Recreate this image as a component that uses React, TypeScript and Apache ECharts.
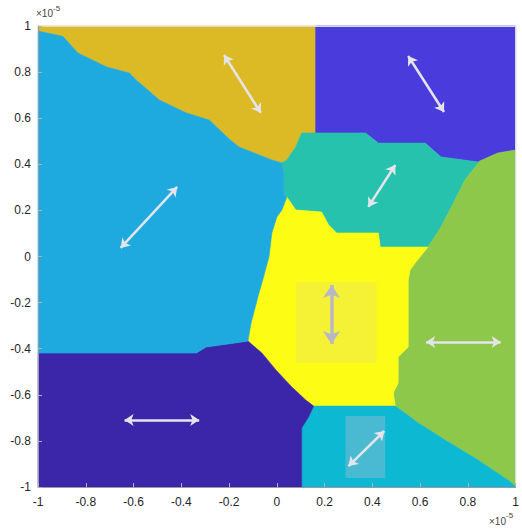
import React, { useEffect, useRef } from "react";
import * as echarts from "echarts";

// Axis ticks (units of 1e-5)
const xTickValues = [-1, -0.8, -0.6, -0.4, -0.2, 0, 0.2, 0.4, 0.6, 0.8, 1];
const yTickValues = [-1, -0.8, -0.6, -0.4, -0.2, 0, 0.2, 0.4, 0.6, 0.8, 1];

// Domain regions (polygon vertices in axis units, x1e-5)
const goldRegion = [
  [-1, 1], [0.1625, 1], [0.1625, 0.536], [0.104, 0.536], [0.079, 0.475], [0.042, 0.419],
  [0.021, 0.406], [-0.021, 0.419], [-0.158, 0.475], [-0.2, 0.51], [-0.283, 0.592], [-0.379, 0.623],
  [-0.492, 0.679], [-0.588, 0.765], [-0.617, 0.796], [-0.7125, 0.822], [-0.833, 0.883],
  [-0.896, 0.955], [-1, 0.978],
];
const darkBlueRegion = [
  [0.1625, 1], [1, 1], [1, 0.462], [0.925, 0.449], [0.85, 0.414], [0.842, 0.41],
  [0.6875, 0.432], [0.621, 0.492], [0.425, 0.492], [0.371, 0.536], [0.1625, 0.536],
];
const tealRegion = [
  [0.1625, 0.536], [0.371, 0.536], [0.425, 0.492], [0.621, 0.492], [0.6875, 0.432], [0.842, 0.41],
  [0.85, 0.414], [0.7875, 0.332], [0.746, 0.245], [0.6875, 0.128], [0.633, 0.041],
  [0.433, 0.041], [0.425, 0.102], [0.25, 0.102], [0.217, 0.137], [0.1875, 0.193], [0.079, 0.202],
  [0.042, 0.258], [0.029, 0.267], [0.029, 0.354], [0.021, 0.406], [0.042, 0.419], [0.079, 0.475],
  [0.104, 0.536],
];
const greenRegion = [
  [1, 0.462], [1, -1], [0.979, -0.978], [0.842, -0.883], [0.704, -0.796], [0.592, -0.722],
  [0.496, -0.649], [0.4875, -0.592], [0.508, -0.549], [0.508, -0.436], [0.55, -0.393],
  [0.55, -0.102], [0.558, -0.059], [0.579, -0.028], [0.633, 0.041], [0.6875, 0.128],
  [0.746, 0.245], [0.7875, 0.332], [0.85, 0.414], [0.925, 0.449],
];
const yellowRegion = [
  [0.042, 0.258], [0.079, 0.202], [0.1875, 0.193], [0.217, 0.137], [0.25, 0.102], [0.425, 0.102],
  [0.433, 0.041], [0.633, 0.041], [0.579, -0.028], [0.558, -0.059], [0.55, -0.102],
  [0.55, -0.393], [0.508, -0.436], [0.508, -0.549], [0.4875, -0.592], [0.496, -0.649],
  [0.154, -0.649], [0.121, -0.623], [0.0625, -0.566], [-0.004, -0.492], [-0.0625, -0.419],
  [-0.121, -0.367], [-0.108, -0.289], [-0.075, -0.158], [-0.0625, -0.115], [-0.033, -0.002],
  [-0.021, 0.102], [0.0, 0.171], [0.021, 0.202],
];
const cyanRegion = [
  [0.154, -0.649], [0.496, -0.649], [0.592, -0.722], [0.704, -0.796], [0.842, -0.883],
  [0.979, -0.978], [1, -1], [0.104, -1], [0.104, -0.744], [0.133, -0.696],
];
const navyRegion = [
  [-1, -1], [0.104, -1], [0.104, -0.744], [0.133, -0.696], [0.154, -0.649], [0.121, -0.623],
  [0.0625, -0.566], [-0.004, -0.492], [-0.0625, -0.419], [-0.121, -0.367], [-0.146, -0.371],
  [-0.296, -0.393], [-0.3375, -0.419], [-1, -0.419],
];
const lightBlueRegion = [
  [-1, 0.978], [-0.896, 0.955], [-0.833, 0.883], [-0.7125, 0.822], [-0.617, 0.796],
  [-0.588, 0.765], [-0.492, 0.679], [-0.379, 0.623], [-0.283, 0.592], [-0.2, 0.51],
  [-0.158, 0.475], [-0.021, 0.419], [0.021, 0.406], [0.029, 0.354], [0.029, 0.267],
  [0.042, 0.258], [0.021, 0.202], [0.0, 0.171], [-0.021, 0.102], [-0.033, -0.002],
  [-0.0625, -0.115], [-0.075, -0.158], [-0.108, -0.289], [-0.121, -0.367], [-0.146, -0.371],
  [-0.296, -0.393], [-0.3375, -0.419], [-1, -0.419],
];

const regionPolygons = [
  goldRegion, darkBlueRegion, tealRegion, greenRegion, yellowRegion, cyanRegion, navyRegion, lightBlueRegion,
];
const regionColors = [
  "#DBBA26", "#4A3BDC", "#27C2AD", "#8DC84A", "#FDFC14", "#0CB8D2", "#3B25A9", "#1EA9DF",
];

// Highlight boxes behind two arrows: [xMin, yMin, xMax, yMax]
const highlightBoxes = [
  [0.079, -0.462, 0.417, -0.111],
  [0.2875, -0.961, 0.454, -0.692],
];
const highlightColors = ["rgba(215,205,190,0.20)", "rgba(190,190,210,0.35)"];

// Double-headed arrows: [from, to]
const whiteArrows = [
  [[-0.221, 0.874], [-0.067, 0.623]],
  [[0.55, 0.87], [0.7, 0.627]],
  [[-0.417, 0.302], [-0.654, 0.037]],
  [[0.496, 0.397], [0.383, 0.215]],
  [[0.625, -0.371], [0.9375, -0.371]],
  [[0.3, -0.909], [0.45, -0.757]],
  [[-0.6375, -0.709], [-0.325, -0.709]],
];
const grayArrows = [[[0.229, -0.124], [0.229, -0.38]]];

const fmt = (v: number) => String(+v.toFixed(1));

export default function App() {
  const ref = useRef<HTMLDivElement>(null);
  useEffect(() => {
    if (!ref.current) return;
    const chart = echarts.init(ref.current, null, { renderer: "svg" });
    const labelStyle = {
      color: "#262626",
      fontSize: 12,
      fontFamily: "Liberation Sans, Arial, sans-serif",
    };
    chart.setOption({
      animation: false,
      backgroundColor: "#fff",
      grid: { left: 38, right: 4, top: 26, bottom: 44, containLabel: false },
      xAxis: [
        {
          type: "value", min: -1, max: 1, interval: 0.2, position: "bottom", z: 10,
          axisLine: { show: true, onZero: false, lineStyle: { color: "#9a9aa6", width: 1 } },
          axisTick: { show: true, inside: true, length: 4, lineStyle: { color: "#b0b0b8" } },
          axisLabel: { ...labelStyle, margin: 9, formatter: fmt },
          splitLine: { show: false },
        },
        {
          type: "value", min: -1, max: 1, interval: 0.2, position: "top", z: 10,
          axisLine: { show: true, onZero: false, lineStyle: { color: "#d8d8e0", width: 1 } },
          axisTick: { show: false }, axisLabel: { show: false }, splitLine: { show: false },
        },
      ],
      yAxis: [
        {
          type: "value", min: -1, max: 1, interval: 0.2, position: "left", z: 10,
          axisLine: { show: true, onZero: false, lineStyle: { color: "#9a9aa6", width: 1 } },
          axisTick: { show: true, inside: true, length: 4, lineStyle: { color: "#b0b0b8" } },
          axisLabel: { ...labelStyle, margin: 7, formatter: fmt },
          splitLine: { show: false },
        },
        {
          type: "value", min: -1, max: 1, interval: 0.2, position: "right", z: 10,
          axisLine: { show: true, onZero: false, lineStyle: { color: "#d8d8e0", width: 1 } },
          axisTick: { show: false }, axisLabel: { show: false }, splitLine: { show: false },
        },
      ],
      graphic: [
        { type: "text", left: 36, top: 8, style: { text: "×10", fontSize: 10, fill: "#444", fontFamily: "Liberation Sans, Arial, sans-serif" } },
        { type: "text", left: 53, top: 4, style: { text: "-5", fontSize: 8, fill: "#444", fontFamily: "Liberation Sans, Arial, sans-serif" } },
        { type: "text", left: 489, top: 516, style: { text: "×10", fontSize: 10, fill: "#444", fontFamily: "Liberation Sans, Arial, sans-serif" } },
        { type: "text", left: 506, top: 511, style: { text: "-5", fontSize: 8, fill: "#444", fontFamily: "Liberation Sans, Arial, sans-serif" } },
      ],
      series: [
        {
          type: "custom",
          coordinateSystem: "cartesian2d",
          silent: true,
          z: 1,
          data: regionPolygons.map((_, i) => [i, 0]),
          renderItem: (params: any, api: any) => {
            const idx = api.value(0);
            const pts = regionPolygons[idx].map((p) => api.coord(p));
            return {
              type: "polygon",
              shape: { points: pts },
              style: { fill: regionColors[idx], stroke: regionColors[idx], lineWidth: 0.6 },
            };
          },
        },
        {
          type: "custom",
          coordinateSystem: "cartesian2d",
          silent: true,
          z: 2,
          data: highlightBoxes.map((_, i) => [i, 0]),
          renderItem: (params: any, api: any) => {
            const idx = api.value(0);
            const b = highlightBoxes[idx];
            const p1 = api.coord([b[0], b[3]]);
            const p2 = api.coord([b[2], b[1]]);
            return {
              type: "rect",
              shape: { x: p1[0], y: p1[1], width: p2[0] - p1[0], height: p2[1] - p1[1] },
              style: { fill: highlightColors[idx] },
            };
          },
        },
        {
          type: "lines",
          coordinateSystem: "cartesian2d",
          silent: true,
          z: 3,
          symbol: ["arrow", "arrow"],
          symbolSize: 9,
          lineStyle: { color: "#e4e4ea", width: 2.5, opacity: 1 },
          data: whiteArrows.map((a) => ({ coords: a })),
        },
        {
          type: "lines",
          coordinateSystem: "cartesian2d",
          silent: true,
          z: 3,
          symbol: ["arrow", "arrow"],
          symbolSize: 13,
          lineStyle: { color: "#b8b8c4", width: 3.5, opacity: 1 },
          data: grayArrows.map((a) => ({ coords: a })),
        },
      ],
    });
    return () => chart.dispose();
  }, []);
  return (
    <div
      ref={ref}
      style={{ position: "fixed", left: 0, top: 0, width: 522, height: 531, background: "#fff" }}
    />
  );
}
